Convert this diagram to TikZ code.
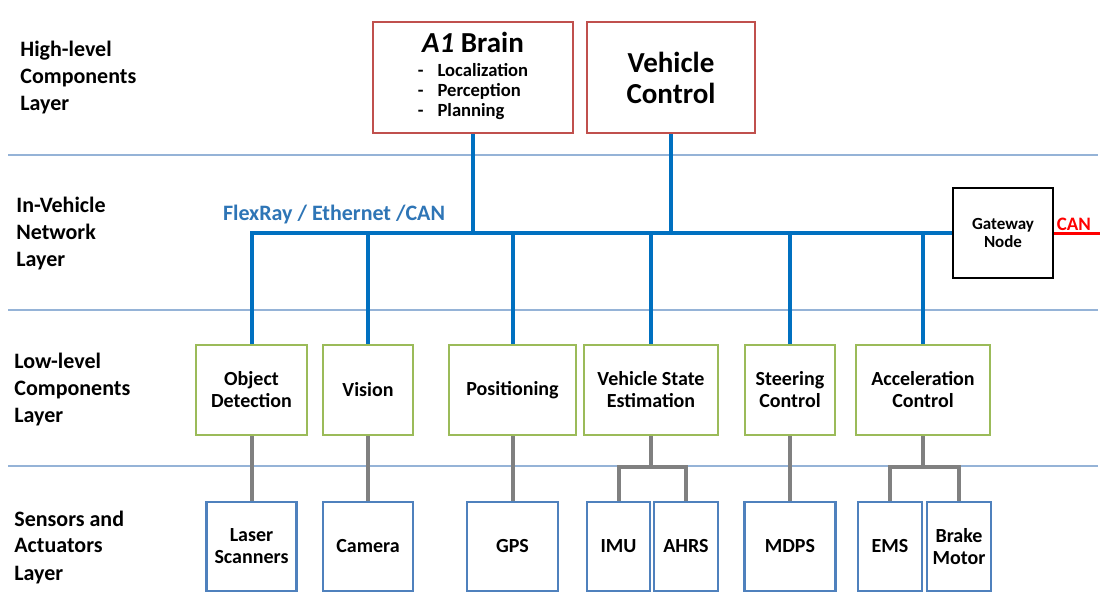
\documentclass[tikz,border=0pt]{standalone}
\usepackage{fontspec}
\setmainfont{Carlito}
\usepackage{tikz}

\definecolor{hired}{HTML}{C0504D}
\definecolor{logreen}{HTML}{9BBB59}
\definecolor{senblue}{HTML}{4F81BD}
\definecolor{busblue}{HTML}{0070C0}
\definecolor{sepblue}{HTML}{95B3D7}
\definecolor{linkgray}{HTML}{808080}
\definecolor{nettext}{HTML}{2E75B6}

\tikzset{
  layer/.style={anchor=west, align=left, inner sep=0pt, font=\fontsize{11}{13.5}\selectfont\bfseries},
  hibox/.style={draw=hired, line width=1.2pt, minimum height=55.5pt, align=center, inner sep=0pt},
  lobox/.style={draw=logreen, line width=1.2pt, minimum height=45pt, align=center, inner sep=0pt, font=\fontsize{10}{11}\selectfont\bfseries},
  senbox/.style={draw=senblue, line width=1.2pt, minimum height=44.5pt, align=center, inner sep=0pt, font=\fontsize{10}{11}\selectfont\bfseries},
  gwbox/.style={draw=black, line width=1.4pt, minimum width=50pt, minimum height=45pt, align=center, inner sep=0pt, font=\fontsize{8.5}{9}\selectfont\bfseries},
  sepline/.style={draw=sepblue, line width=1pt},
  bus/.style={draw=busblue, line width=2pt},
  link/.style={draw=linkgray, line width=2pt},
}

\begin{document}
\begin{tikzpicture}[x=0.5pt, y=-0.5pt]
  \useasboundingbox (0,0) rectangle (1104,596);

  % layer separators
  \foreach \y in {155,310,466}
    \draw[sepline] (8,\y) -- (1098,\y);

  % layer names
  \node[layer] (lhigh) at (20,78) {High-level\\Components\\Layer};
  \node[layer] (lnet) at (16,234) {In-Vehicle\\Network\\Layer};
  \node[layer] (llow) at (14,390) {Low-level\\Components\\Layer};
  \node[layer] (lsen) at (14,547) {Sensors and\\Actuators\\Layer};

  % high-level
  \node[hibox, minimum width=100pt] (brain) at (473,77.5)
    {{\fontsize{14.5}{15}\selectfont\bfseries\textit{A1} Brain}\\[0pt]
     {\fontsize{9.3}{10}\selectfont\bfseries
      \begin{tabular}[t]{@{}l@{\hspace{7pt}}l@{}}
      - & Localization\\ - & Perception\\ - & Planning
      \end{tabular}}};
  \node[hibox, minimum width=84pt, font=\fontsize{14.5}{15.5}\selectfont\bfseries] (vc) at (671,77.5) {Vehicle\\Control};

  % network
  \node[gwbox] (gw) at (1003,233) {Gateway\\Node};
  \node[font=\fontsize{11}{13}\selectfont\bfseries, text=nettext, inner sep=0pt] (netlbl) at (334,215) {FlexRay / Ethernet /CAN};

  % low-level
  \node[lobox, minimum width=55.5pt] (od) at (251.5,390) {Object\\Detection};
  \node[lobox, minimum width=45pt] (vis) at (368,390) {Vision};
  \node[lobox, minimum width=63.5pt] (pos) at (512.5,390) {Positioning};
  \node[lobox, minimum width=67pt] (vse) at (651,390) {Vehicle State\\Estimation};
  \node[lobox, minimum width=45pt] (steer) at (790,390) {Steering\\Control};
  \node[lobox, minimum width=67pt] (acc) at (923,390) {Acceleration\\Control};

  % sensors and actuators
  \node[senbox, minimum width=45pt] (laser) at (251.5,546.5) {Laser\\Scanners};
  \node[senbox, minimum width=45pt] (cam) at (368,546.5) {Camera};
  \node[senbox, minimum width=45.5pt] (gps) at (512.5,546.5) {GPS};
  \node[senbox, minimum width=31.5pt] (imu) at (618.5,546.5) {IMU};
  \node[senbox, minimum width=32pt] (ahrs) at (686,546.5) {AHRS};
  \node[senbox, minimum width=45.5pt] (mdps) at (790,546.5) {MDPS};
  \node[senbox, minimum width=32pt] (ems) at (890,546.5) {EMS};
  \node[senbox, minimum width=32pt] (brake) at (959,546.5) {Brake\\Motor};

  % bus
  \draw[bus] (od.north) |- (gw.west);
  \draw[bus] (brain.south) -- (brain.south |- gw.west);
  \draw[bus] (vc.south) -- (vc.south |- gw.west);
  \foreach \n in {vis,pos,vse,steer,acc}
    \draw[bus] (\n.north) -- (\n.north |- gw.west);
  \coordinate (canend) at (1100,233);
  \draw[red, line width=1.5pt] (gw.east) -- (canend);
  \node[anchor=south west, font=\fontsize{9.5}{10}\selectfont\bfseries, text=red, inner sep=1pt] (canlbl) at (gw.east) {CAN};

  % links to sensors
  \coordinate (fork) at (0,467);
  \draw[link] (od.south) -- (laser.north);
  \draw[link] (vis.south) -- (cam.north);
  \draw[link] (pos.south) -- (gps.north);
  \draw[link] (steer.south) -- (mdps.north);
  \draw[link] (vse.south) -- (vse.south |- fork) -| (imu.north);
  \draw[link] (vse.south |- fork) -| (ahrs.north);
  \draw[link] (acc.south) -- (acc.south |- fork) -| (ems.north);
  \draw[link] (acc.south |- fork) -| (brake.north);
\end{tikzpicture}
\end{document}
